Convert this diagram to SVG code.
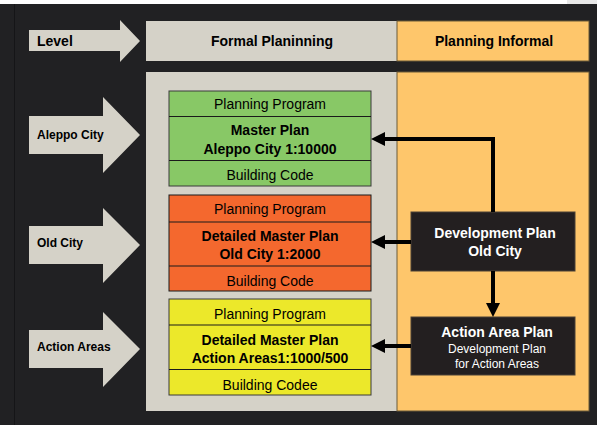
<svg xmlns="http://www.w3.org/2000/svg" width="597" height="425" viewBox="0 0 597 425">
<defs>
<style>
.t{font-family:"Liberation Sans",Arial,sans-serif;text-anchor:middle;fill:#000}
.b{font-weight:bold}
.lv{font-family:"Liberation Sans",Arial,sans-serif;font-weight:bold;fill:#000}
.arr{fill:#d5d2c8}
.row{stroke:#1a1a1a;stroke-width:1}
.w{fill:#fff}
.con{stroke:#000;stroke-width:4;fill:none}
.head{fill:#000}
</style>
</defs>
<rect x="0" y="0" width="597" height="425" fill="#212123"/>
<rect x="0" y="0" width="567" height="4" fill="#fff"/>
<rect x="567" y="0" width="30" height="4" fill="#e8e8e8"/>
<rect x="14" y="4" width="1" height="421" fill="#151517"/>

<g id="header-formal">
<rect x="146" y="21" width="251" height="40" fill="#d5d2c8"/>
<text class="t b" x="272" y="46" font-size="14">Formal Planinning</text>
</g>
<g id="header-informal">
<rect x="397" y="21" width="192" height="40" fill="#fec66b" stroke="#6b5a38" stroke-width="1"/>
<text class="t b" x="494" y="46" font-size="14">Planning Informal</text>
</g>
<g id="body-formal"><rect x="146" y="72" width="251" height="339" fill="#d5d2c8"/></g>
<g id="body-informal"><rect x="397" y="72" width="192" height="339" fill="#fec66b" stroke="#6b5a38" stroke-width="1"/></g>

<g id="level">
<path class="arr" d="M29,30 H120 V20 L140,41 L120,62 V51 H29 Z"/>
<text class="lv" x="37" y="46" font-size="14">Level</text>
</g>
<g id="aleppo-city">
<path class="arr" d="M29,116 H103 V97 L140,135 L103,173 V154 H29 Z"/>
<text class="lv" x="37" y="139" font-size="12">Aleppo City</text>
</g>
<g id="old-city">
<path class="arr" d="M29,226 H103 V208 L140,245 L103,283 V264 H29 Z"/>
<text class="lv" x="37" y="247" font-size="12">Old City</text>
</g>
<g id="action-areas">
<path class="arr" d="M29,330 H103 V312 L140,349 L103,387 V368 H29 Z"/>
<text class="lv" x="37" y="351" font-size="12">Action Areas</text>
</g>

<g id="aleppo-plans">
<rect x="169" y="91" width="202" height="95" fill="#88c866" stroke="#3a3a3a"/>
<line class="row" x1="169" y1="116.5" x2="371" y2="116.5"/>
<line class="row" x1="169" y1="160.5" x2="371" y2="160.5"/>
<text class="t" x="270" y="109" font-size="14">Planning Program</text>
<text class="t b" x="270" y="135" font-size="14">Master Plan</text>
<text class="t b" x="270" y="154" font-size="14">Aleppo City 1:10000</text>
<text class="t" x="270" y="180" font-size="14">Building Code</text>
</g>
<g id="old-city-plans">
<rect x="169" y="195" width="202" height="96" fill="#f4682e" stroke="#1a1a1a"/>
<line class="row" x1="169" y1="222" x2="371" y2="222"/>
<line class="row" x1="169" y1="266" x2="371" y2="266"/>
<text class="t" x="270" y="214" font-size="14">Planning Program</text>
<text class="t b" x="270" y="241" font-size="14">Detailed Master Plan</text>
<text class="t b" x="270" y="259" font-size="14">Old City 1:2000</text>
<text class="t" x="270" y="286" font-size="14">Building Code</text>
</g>
<g id="action-areas-plans">
<rect x="169" y="299" width="202" height="96" fill="#ece82a" stroke="#3a3a3a"/>
<line class="row" x1="169" y1="325" x2="371" y2="325"/>
<line class="row" x1="169" y1="369.5" x2="371" y2="369.5"/>
<text class="t" x="270" y="319" font-size="14">Planning Program</text>
<text class="t b" x="270" y="345" font-size="14">Detailed Master Plan</text>
<text class="t b" x="270" y="363" font-size="14">Action Areas1:1000/500</text>
<text class="t" x="270" y="390" font-size="14">Building Codee</text>
</g>

<g id="development-plan">
<rect x="411" y="212" width="164" height="59" fill="#231f20" stroke="#4a4036"/>
<text class="t b w" x="495" y="238" font-size="14" fill="#fff">Development Plan</text>
<text class="t b w" x="495" y="256" font-size="14" fill="#fff">Old City</text>
</g>
<g id="action-area-plan">
<rect x="411" y="317" width="164" height="58" fill="#231f20" stroke="#4a4036"/>
<text class="t b w" x="497" y="337" font-size="14" fill="#fff">Action Area Plan</text>
<text class="t w" x="497" y="353" font-size="12" fill="#fff">Development Plan</text>
<text class="t w" x="497" y="368" font-size="12" fill="#fff">for Action Areas</text>
</g>

<g id="connectors">
<path class="con" d="M493,212 V139 H384"/>
<polygon class="head" points="371,139 385,132 385,146"/>
<path class="con" d="M411,242 H384"/>
<polygon class="head" points="371,242 385,235 385,249"/>
<path class="con" d="M493,271 V304"/>
<polygon class="head" points="493,317 486,303 500,303"/>
<path class="con" d="M411,346 H384"/>
<polygon class="head" points="371,346 385,339 385,353"/>
</g>
</svg>
